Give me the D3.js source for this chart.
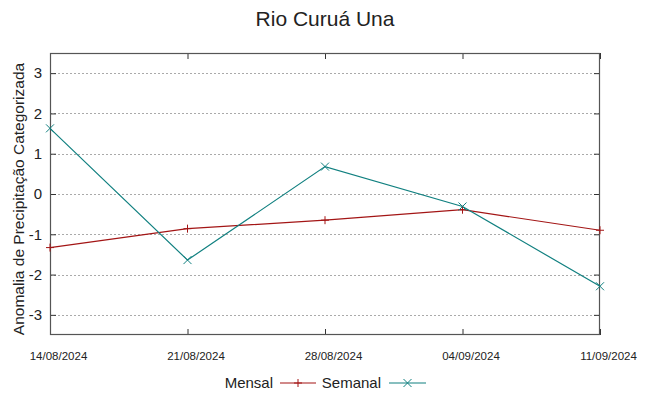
<!DOCTYPE html>
<html>
<head>
<meta charset="utf-8">
<script src="https://cdn.jsdelivr.net/npm/d3@7"></script>
<style>
    body { margin: 0; background: #fff; }
    text { font-family: "Liberation Sans", Arial, sans-serif; fill: #222; }
</style>
</head>
<body>
<svg id="chart"></svg>
<script>
// chart data
const dates = ["14/08/2024", "21/08/2024", "28/08/2024", "04/09/2024", "11/09/2024"];
const mensal = [-1.33, -0.86, -0.65, -0.39, -0.90];
const semanal = [1.63, -1.64, 0.68, -0.31, -2.29];
const yTicks = [-3, -2, -1, 0, 1, 2, 3];

let width = 649;
let height = 396;
let margin = { top: 53, right: 49, bottom: 61, left: 50 };

let parseDate = d3.timeParse("%d/%m/%Y");
let formatDate = d3.timeFormat("%d/%m/%Y");

let svg = d3.select("#chart")
    .attr("width", width)
    .attr("height", height);

let x = d3.scaleTime()
    .domain(d3.extent(dates, parseDate))
    .range([margin.left, width - margin.right]);

let y = d3.scaleLinear()
    .domain([-3.5, 3.5])
    .range([height - margin.bottom, margin.top]);

// title
svg.append("text")
    .attr("x", 325)
    .attr("y", 26)
    .attr("text-anchor", "middle")
    .style("font-size", "21px")
    .text("Rio Curuá Una");

// grid lines
svg.append("g")
    .selectAll("line")
    .data(yTicks)
    .enter()
    .append("line")
    .attr("x1", margin.left)
    .attr("x2", width - margin.right)
    .attr("y1", d => Math.round(y(d)) + 0.5)
    .attr("y2", d => Math.round(y(d)) + 0.5)
    .attr("stroke", "#aaa")
    .attr("stroke-width", 1)
    .attr("stroke-dasharray", "2,2");

// y axis, ticks drawn inward on both sides
let yAxisL = d3.axisLeft(y).tickValues(yTicks).tickSize(-6).tickPadding(8).tickFormat(d => String(d));
let yAxisR = d3.axisRight(y).tickValues(yTicks).tickSize(-6).tickFormat("");
let xAxisB = d3.axisBottom(x).tickValues(dates.map(parseDate)).tickSize(-6).tickPadding(17).tickFormat(formatDate);
let xAxisT = d3.axisTop(x).tickValues(dates.map(parseDate)).tickSize(-6).tickFormat("");

function styleAxis(g) {
    g.select(".domain").remove();
    g.selectAll(".tick line").attr("stroke", "#333");
    g.selectAll(".tick text").attr("fill", "#222").style("font-family", "'Liberation Sans', Arial, sans-serif");
}

svg.append("g")
    .attr("transform", "translate(" + margin.left + ",0)")
    .call(yAxisL)
    .call(styleAxis)
    .selectAll(".tick text").style("font-size", "15px");

svg.append("g")
    .attr("transform", "translate(" + (width - margin.right) + ",0)")
    .call(yAxisR)
    .call(styleAxis);

// date labels sit a little right of their ticks, as in the original
svg.append("g")
    .attr("transform", "translate(0," + (height - margin.bottom) + ")")
    .call(xAxisB)
    .call(styleAxis)
    .selectAll(".tick text")
    .attr("dx", 8)
    .style("font-size", "11.5px");

svg.append("g")
    .attr("transform", "translate(0," + margin.top + ")")
    .call(xAxisT)
    .call(styleAxis);

// frame
svg.append("rect")
    .attr("x", margin.left + 0.5)
    .attr("y", margin.top + 0.5)
    .attr("width", width - margin.left - margin.right - 1)
    .attr("height", height - margin.top - margin.bottom - 1)
    .attr("fill", "none")
    .attr("stroke", "#555")
    .attr("stroke-width", 1.2);

// y axis label
svg.append("text")
    .attr("transform", "translate(24,199) rotate(-90)")
    .attr("text-anchor", "middle")
    .style("font-size", "15.5px")
    .text("Anomalia de Precipitação Categorizada");

let line = d3.line()
    .x((d, i) => x(parseDate(dates[i])))
    .y(d => y(d));

let series = [
    { name: "Mensal", values: mensal, color: "#a31515", marker: "plus" },
    { name: "Semanal", values: semanal, color: "#118080", marker: "cross" }
];

function marker(g, type, cx, cy, color) {
    let s = 4;
    if (type === "plus") {
        g.append("path").attr("d", `M${cx - s},${cy}H${cx + s}M${cx},${cy - s}V${cy + s}`)
            .attr("stroke", color).attr("stroke-width", 1);
    } else {
        g.append("path").attr("d", `M${cx - s},${cy - s}L${cx + s},${cy + s}M${cx - s},${cy + s}L${cx + s},${cy - s}`)
            .attr("stroke", color).attr("stroke-width", 1);
    }
}

series.forEach(s => {
    let g = svg.append("g");
    g.append("path")
        .datum(s.values)
        .attr("d", line)
        .attr("fill", "none")
        .attr("stroke", s.color)
        .attr("stroke-width", 1.2);
    s.values.forEach((v, i) => marker(g, s.marker, x(parseDate(dates[i])), y(v), s.color));
});

// legend
let legend = svg.append("g").attr("transform", "translate(0,383)");
let legendItems = [
    { textEnd: 273, x1: 280, x2: 316 },
    { textEnd: 381, x1: 389, x2: 426 }
];
series.forEach((s, i) => {
    let it = legendItems[i];
    legend.append("text")
        .attr("x", it.textEnd)
        .attr("y", 5)
        .attr("text-anchor", "end")
        .style("font-size", "15px")
        .text(s.name);
    legend.append("line")
        .attr("x1", it.x1).attr("x2", it.x2)
        .attr("y1", 0).attr("y2", 0)
        .attr("stroke", s.color).attr("stroke-width", 1.2);
    marker(legend, s.marker, (it.x1 + it.x2) / 2, 0, s.color);
});
</script>
</body>
</html>
